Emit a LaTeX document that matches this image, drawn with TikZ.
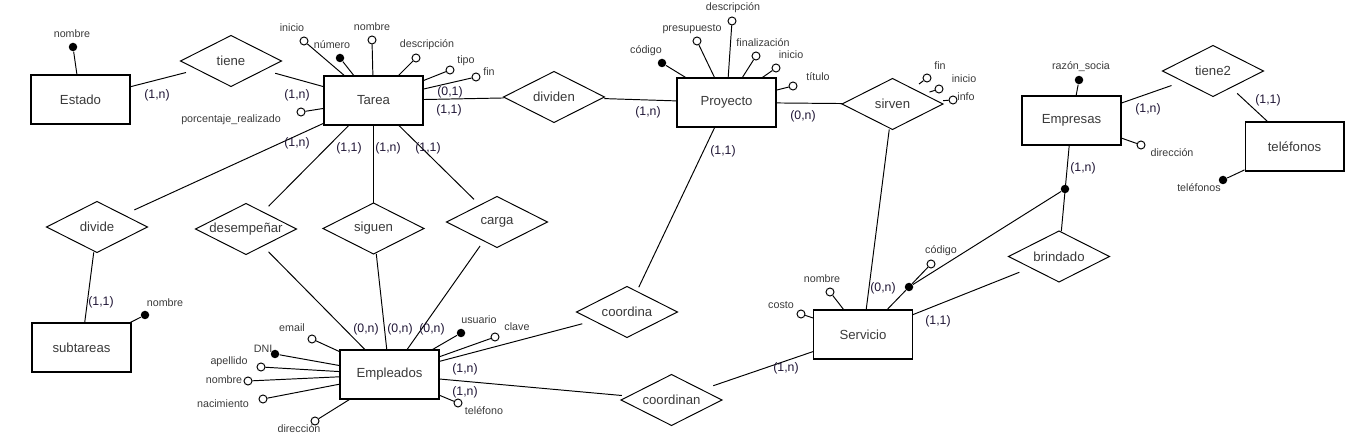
\documentclass[tikz,border=0pt]{standalone}
\usepackage{fontspec}
\setmainfont{Liberation Sans}
\usetikzlibrary{shapes.geometric,calc}
\definecolor{inkgray}{HTML}{3A3A3A}
\definecolor{cardink}{HTML}{1E1434}

\begin{document}
\begin{tikzpicture}[x=0.02cm, y=-0.02cm, line width=0.55pt,
        entity/.style={draw, rectangle, line width=0.6pt, minimum width=1.98cm, minimum height=0.98cm, inner sep=0pt, text=inkgray, font=\fontsize{7.5}{9}\selectfont},
        relation/.style={ellipse, minimum width=2cm, minimum height=1cm, inner xsep=-12pt, inner ysep=0pt, text=inkgray, font=\fontsize{7.5}{9}\selectfont},
        attr/.style={draw, circle, fill=white, minimum size=0.16cm, inner sep=0pt},
        keyattr/.style={circle, fill=black, minimum size=0.17cm, inner sep=0pt},
        attrname/.style={inner sep=0pt, text=inkgray, font=\fontsize{6.1}{7}\selectfont},
        card/.style={inner sep=0pt, text=cardink, font=\fontsize{7}{8}\selectfont}]
        \useasboundingbox (0,0) rectangle (1348,438);
        % entidades
        \node[entity] (estado) at (80.5,99.5) {Estado};
        \node[entity] (tarea) at (373.5,100.5) {Tarea};
        \node[entity] (proyecto) at (726.5,102.5) {Proyecto};
        \node[entity] (empresas) at (1071.5,120.5) {Empresas};
        \node[entity] (telefonos) at (1294.5,146.5) {teléfonos};
        \node[entity] (subtareas) at (81.5,347.5) {subtareas};
        \node[entity] (empleados) at (389.5,374.5) {Empleados};
        \node[entity] (servicio) at (863,334.5) {Servicio};
        % relaciones
        \node[relation] (tiene) at (231,61) {tiene};
        \node[relation] (dividen) at (554,97) {dividen};
        \node[relation] (sirven) at (892.5,104) {sirven};
        \node[relation] (tiene2) at (1213,71) {tiene2};
        \node[relation] (divide) at (97,227) {divide};
        \node[relation] (desempenar) at (246,229) {desempeñar};
        \node[relation] (siguen) at (373.5,228.5) {siguen};
        \node[relation] (carga) at (497,222) {carga};
        \node[relation] (coordina) at (627,312) {coordina};
        \node[relation] (coordinan) at (671.5,400) {coordinan};
        \node[relation] (brindado) at (1059,256.5) {brindado};
        \foreach \r in {tiene,dividen,sirven,tiene2,divide,desempenar,siguen,carga,coordina,coordinan,brindado}
            {
                \draw (\r.north) -- (\r.east) -- (\r.south) -- (\r.west) -- cycle;
            }
        % conexiones
        \foreach \a/\b in {estado/tiene, tiene/tarea, tarea/dividen, dividen/proyecto,
            proyecto/sirven, sirven/servicio, proyecto/coordina, coordina/empleados,
            empleados/coordinan, coordinan/servicio, servicio/brindado, brindado/empresas,
            empresas/tiene2, tiene2/telefonos, tarea/divide, divide/subtareas,
            tarea/desempenar, desempenar/empleados, tarea/siguen, siguen/empleados,
            tarea/carga, carga/empleados}
            {
                \draw (\a) -- (\b);
            }
        % atributos
        \foreach \nm/\own/\x/\y/\lx/\ly/\txt in {
            tIni/tarea/304/41/292/28/inicio, tNom/tarea/372/40/372/27/nombre,
            tDes/tarea/416/58/427/45/descripción, tTip/tarea/450/70/466/61/tipo,
            tFin/tarea/476/77/489/72/fin, tPor/tarea/301/112/231/120/porcentaje\_realizado,
            pPre/proyecto/697/41/692/29/presupuesto, pDes/proyecto/732/21/733/8/descripción,
            pFinl/proyecto/756/56/763/43/finalización, pIni/proyecto/776/68/791/55/inicio,
            pTit/proyecto/793/86/818/77/título, mDir/empresas/1141/145/1172/153/dirección,
            emEma/empleados/312/339/292/328/email, emApe/empleados/261/367/229/362/apellido,
            emNom/empleados/248/381/224/380/nombre, emNac/empleados/263/399/223/404/nacimiento,
            emDir/empleados/315/421/299/429/dirección, emCla/empleados/495/337/517/327/clave,
            emTel/empleados/458/403/484/411/teléfono, sNom/servicio/830/292/822/279/nombre,
            sCos/servicio/801/314/781/305/costo}
            {
                \node[attr] (\nm) at (\x,\y) {};
                \draw (\nm) -- (\own);
                \node[attrname] (\nm-t) at (\lx,\ly) {\txt};
            }
        \foreach \nm/\own/\x/\y/\lx/\ly/\txt in {
            eNom/estado/73/47/72/34/nombre, tNum/tarea/340/58/332/45/número,
            pCod/proyecto/662/63/646/51/código, mRaz/empresas/1079/80/1081/67/razón\_socia,
            fTel/telefonos/1223/180/1199/188/teléfonos, stNom/subtareas/145/315/165/303/nombre,
            emDni/empleados/275/354/263/349/DNI, emUsu/empleados/461/333/479/320/usuario}
            {
                \node[keyattr] (\nm) at (\x,\y) {};
                \draw (\nm) -- (\own);
                \node[attrname] (\nm-t) at (\lx,\ly) {\txt};
            }
        % atributos de sirven
        \foreach \nm/\x/\y/\lx/\ly/\txt in {sFin/927/78/940/66/fin, sIni/939/89/964/79/inicio, sInfo/953/100/966/97/info}
            {
                \node[attr] (\nm) at (\x,\y) {};
                \draw (\nm) -- ($(\nm)!0.2cm!(sirven)$);
                \node[attrname] (\nm-t) at (\lx,\ly) {\txt};
            }
        % identificador de servicio
        \node[keyattr] (sKey) at (909,287) {};
        \node[keyattr] (eKey) at (1065,189) {};
        \node[attr] (sCod) at (931,264) {};
        \node[attrname] (sCod-t) at (941,251) {código};
        \draw (sKey) -- (servicio);
        \draw (sKey) -- (sCod);
        \draw (sKey) -- (eKey);
        % cardinalidades
        \foreach \x/\y/\c [count=\i] in {157/95/{(1,n)}, 297/95/{(1,n)}, 297/143/{(1,n)},
            450/92/{(0,1)}, 449/110/{(1,1)}, 349/148/{(1,1)}, 388/148/{(1,n)}, 428/148/{(1,1)},
            648/112/{(1,n)}, 803/116/{(0,n)}, 723/151/{(1,1)}, 1148/109/{(1,n)},
            1268/100/{(1,1)}, 1083/168/{(1,n)}, 101/302/{(1,1)}, 366/329/{(0,n)},
            400/329/{(0,n)}, 432/329/{(0,n)}, 465/369/{(1,n)}, 465/392/{(1,n)},
            883/288/{(0,n)}, 938/321/{(1,1)}, 786/368/{(1,n)}}
            {
                \node[card] (card\i) at (\x,\y) {\c};
            }
\end{tikzpicture}
\end{document}
